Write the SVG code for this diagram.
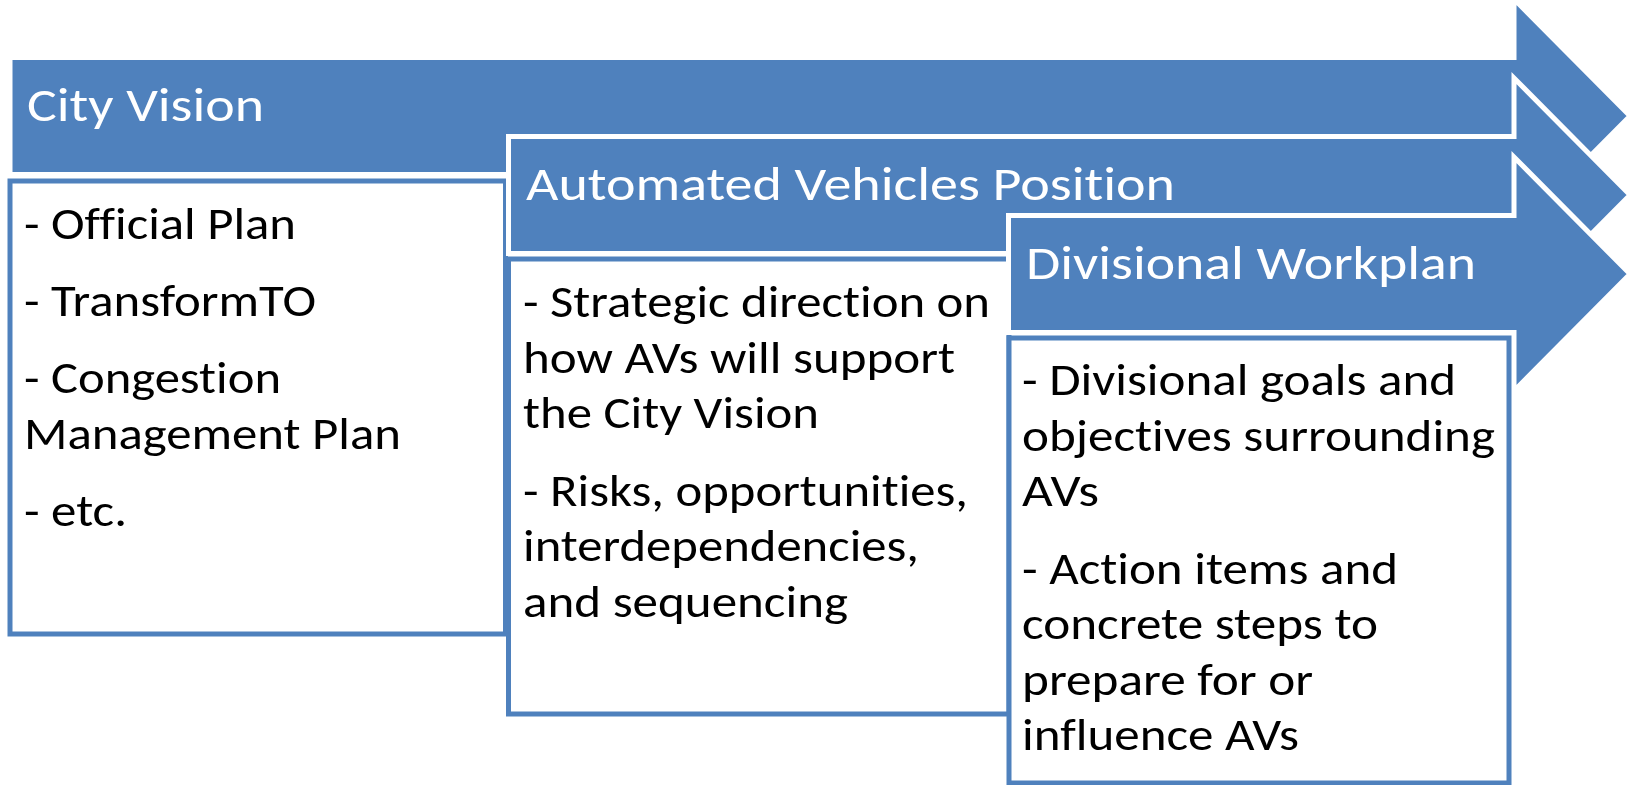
<svg xmlns="http://www.w3.org/2000/svg" width="1628" height="785" viewBox="0 0 1628 785">
  <style>
    .arrow { fill: #4F81BD; stroke: #FFFFFF; stroke-width: 5; stroke-linejoin: miter; stroke-miterlimit: 10; }
    .box { fill: #FFFFFF; stroke: #4F81BD; stroke-width: 5; }
    .title { font-family: Carlito, Lato, "Liberation Sans", sans-serif; font-size: 48px; fill: #FFFFFF; font-variant-ligatures: none; font-feature-settings: "liga" 0, "dlig" 0; }
    .body { font-family: Carlito, Lato, "Liberation Sans", sans-serif; font-size: 46px; fill: #000000; font-variant-ligatures: none; font-feature-settings: "liga" 0, "dlig" 0; }
  </style>
  <rect width="1628" height="785" fill="#FFFFFF"/>

  <g id="node-city-vision-arrow">
    <path class="arrow" d="M10,57.5 H1514 V-1 L1630,116 L1514,233 V174.5 H10 Z"/>
    <text class="title" x="27" y="121" textLength="237" lengthAdjust="spacingAndGlyphs">City Vision</text>
  </g>
  <g id="node-city-vision-box">
    <rect class="box" x="10" y="181" width="495.5" height="453"/>
    <text class="body" x="24" y="238.5" textLength="272" lengthAdjust="spacingAndGlyphs">- Official Plan</text>
    <text class="body" x="24" y="316" textLength="292" lengthAdjust="spacingAndGlyphs">- TransformTO</text>
    <text class="body" x="24" y="393" textLength="257" lengthAdjust="spacingAndGlyphs">- Congestion</text>
    <text class="body" x="24" y="448.5" textLength="377" lengthAdjust="spacingAndGlyphs">Management Plan</text>
    <text class="body" x="24" y="526" textLength="103" lengthAdjust="spacingAndGlyphs">- etc.</text>
  </g>

  <g id="node-av-position-arrow">
    <path class="arrow" d="M508.5,136.5 H1514 V78 L1630,195 L1514,312 V253.5 H508.5 Z"/>
    <text class="title" x="526" y="200" textLength="649" lengthAdjust="spacingAndGlyphs">Automated Vehicles Position</text>
  </g>
  <g id="node-av-position-box">
    <rect class="box" x="508.5" y="259" width="500.5" height="455"/>
    <text class="body" x="523" y="317" textLength="467" lengthAdjust="spacingAndGlyphs">- Strategic direction on</text>
    <text class="body" x="523" y="372.6" textLength="432" lengthAdjust="spacingAndGlyphs">how AVs will support</text>
    <text class="body" x="523" y="428.2" textLength="296" lengthAdjust="spacingAndGlyphs">the City Vision</text>
    <text class="body" x="523" y="505.6" textLength="445" lengthAdjust="spacingAndGlyphs">- Risks, opportunities,</text>
    <text class="body" x="523" y="561.2" textLength="396" lengthAdjust="spacingAndGlyphs">interdependencies,</text>
    <text class="body" x="523" y="616.8" textLength="325" lengthAdjust="spacingAndGlyphs">and sequencing</text>
  </g>

  <g id="node-divisional-workplan-arrow">
    <path class="arrow" d="M1008.5,215.5 H1514 V157 L1630,274 L1514,391 V332.5 H1008.5 Z"/>
    <text class="title" x="1026" y="279.3" textLength="450" lengthAdjust="spacingAndGlyphs">Divisional Workplan</text>
  </g>
  <g id="node-divisional-workplan-box">
    <rect class="box" x="1009" y="338" width="500" height="445"/>
    <text class="body" x="1022" y="395" textLength="434" lengthAdjust="spacingAndGlyphs">- Divisional goals and</text>
    <text class="body" x="1022" y="450.6" textLength="473" lengthAdjust="spacingAndGlyphs">objectives surrounding</text>
    <text class="body" x="1022" y="506.2" textLength="77" lengthAdjust="spacingAndGlyphs">AVs</text>
    <text class="body" x="1022" y="583.6" textLength="376" lengthAdjust="spacingAndGlyphs">- Action items and</text>
    <text class="body" x="1022" y="639.2" textLength="356" lengthAdjust="spacingAndGlyphs">concrete steps to</text>
    <text class="body" x="1022" y="694.8" textLength="291" lengthAdjust="spacingAndGlyphs">prepare for or</text>
    <text class="body" x="1022" y="750.4" textLength="277" lengthAdjust="spacingAndGlyphs">influence AVs</text>
  </g>

  <g id="connectors"></g>
</svg>
